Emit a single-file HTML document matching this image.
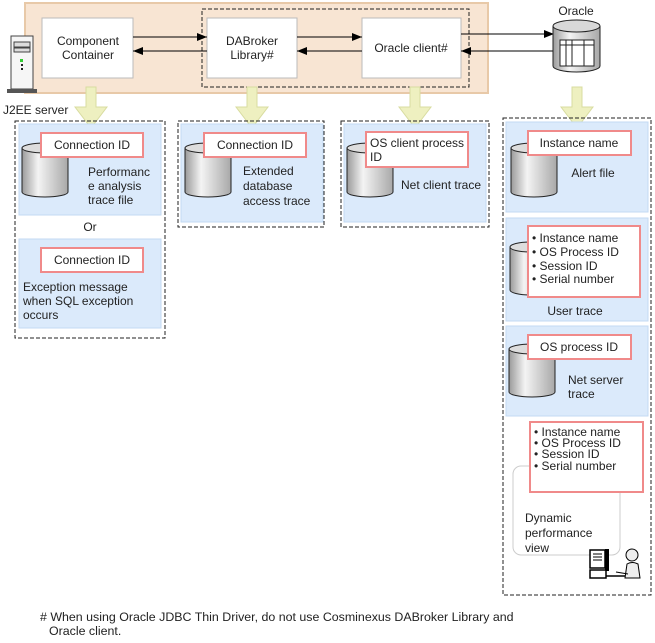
<!DOCTYPE html>
<html><head><meta charset="utf-8"><style>
html,body{margin:0;padding:0;background:#fff}
svg{display:block}
text{font-family:"Liberation Sans",sans-serif;font-size:12px;fill:#222}
</style></head><body>
<svg width="655" height="643" viewBox="0 0 655 643" xmlns="http://www.w3.org/2000/svg">
<defs>
<linearGradient id="cyl" x1="0" x2="1" y1="0" y2="0">
<stop offset="0" stop-color="#9a9a9a"/><stop offset="0.35" stop-color="#f4f4f4"/><stop offset="1" stop-color="#a8a8a8"/>
</linearGradient>
<marker id="ah" markerWidth="10" markerHeight="8" refX="10" refY="4" orient="auto" markerUnits="userSpaceOnUse">
<path d="M0,0 L10,4 L0,8 z" fill="#000"/></marker>
<g id="yarr"><path d="M-5,0 H5 V20 H16 L0,41 L-16,20 H-5 Z" fill="#eef0c0" stroke="#d8dca0"/></g>
</defs>

<rect x="25" y="3" width="463" height="90" fill="#f8e5d3" stroke="#e8c9a8" stroke-width="2"/>
<rect x="202" y="9" width="267" height="78" fill="none" stroke="#222" stroke-dasharray="4,2"/>
<rect x="42" y="18" width="91" height="60" fill="#fff" stroke="#bbb"/>
<rect x="207" y="18" width="90" height="60" fill="#fff" stroke="#bbb"/>
<rect x="362" y="18" width="99" height="60" fill="#fff" stroke="#bbb"/>
<text x="88" y="45" text-anchor="middle">Component</text>
<text x="88" y="59" text-anchor="middle">Container</text>
<text x="252" y="45" text-anchor="middle">DABroker</text>
<text x="252" y="59" text-anchor="middle">Library#</text>
<text x="411" y="52" text-anchor="middle">Oracle client#</text>
<line x1="133" y1="37" x2="207" y2="37" stroke="#000" marker-end="url(#ah)"/>
<line x1="207" y1="51" x2="133" y2="51" stroke="#000" marker-end="url(#ah)"/>
<line x1="297" y1="37" x2="362" y2="37" stroke="#000" marker-end="url(#ah)"/>
<line x1="362" y1="51" x2="297" y2="51" stroke="#000" marker-end="url(#ah)"/>
<line x1="461" y1="34" x2="554" y2="34" stroke="#000" marker-end="url(#ah)"/>
<line x1="553" y1="51" x2="461" y2="51" stroke="#000" marker-end="url(#ah)"/>

<text x="576" y="15" text-anchor="middle">Oracle</text>
<path d="M553,26 V66 A23.5,6 0 0 0 600,66 V26" fill="url(#cyl)" stroke="#222"/>
<ellipse cx="576.5" cy="26" rx="23.5" ry="6" fill="#d8d8d8" stroke="#222"/>
<rect x="560" y="40" width="34" height="26" fill="#fff" stroke="#222"/>
<line x1="560" y1="45" x2="594" y2="45" stroke="#222"/>
<line x1="566" y1="40" x2="566" y2="66" stroke="#222"/>
<line x1="572" y1="40" x2="572" y2="66" stroke="#222"/>
<line x1="584" y1="40" x2="584" y2="66" stroke="#222"/>

<rect x="11" y="36" width="22" height="53" fill="#f6f6f6" stroke="#444"/>
<rect x="14" y="42" width="16" height="5" fill="#ddd" stroke="#444"/>
<rect x="14" y="48" width="16" height="4" fill="#ddd" stroke="#444"/>
<rect x="20" y="59" width="3" height="3" fill="#3c3"/>
<rect x="21" y="64" width="2" height="2" fill="#222"/>
<rect x="21" y="68" width="2" height="2" fill="#222"/>
<rect x="7" y="89" width="30" height="4" fill="#555"/>
<text x="3" y="114">J2EE server</text>

<use href="#yarr" x="91" y="87"/>
<use href="#yarr" x="252" y="87"/>
<use href="#yarr" x="415" y="87"/>
<use href="#yarr" x="577" y="87"/>

<rect x="15" y="121" width="150" height="217" fill="none" stroke="#222" stroke-dasharray="4,2"/>
<rect x="19" y="124" width="142" height="91" fill="#dbeafb" stroke="#c3daf3"/>
<rect x="19" y="239" width="142" height="89" fill="#dbeafb" stroke="#c3daf3"/>
<path d="M22,148 V192 A23,5 0 0 0 68,192 V148" fill="url(#cyl)" stroke="#222"/>
<ellipse cx="45" cy="148" rx="23" ry="5" fill="#ddd" stroke="#222"/>
<rect x="41" y="133" width="102" height="24" fill="#fff" stroke="#f08a8a" stroke-width="2"/>
<text x="92" y="149" text-anchor="middle">Connection ID</text>
<text x="88" y="176">Performanc</text>
<text x="88" y="190">e analysis</text>
<text x="88" y="204">trace file</text>
<text x="90" y="231" text-anchor="middle">Or</text>
<rect x="41" y="248" width="102" height="24" fill="#fff" stroke="#f08a8a" stroke-width="2"/>
<text x="92" y="264" text-anchor="middle">Connection ID</text>
<text x="23" y="291">Exception message</text>
<text x="23" y="305">when SQL exception</text>
<text x="23" y="319">occurs</text>

<rect x="178" y="121" width="146" height="106" fill="none" stroke="#222" stroke-dasharray="4,2"/>
<rect x="181" y="124" width="142" height="98" fill="#dbeafb" stroke="#c3daf3"/>
<path d="M185,148 V192 A23,5 0 0 0 231,192 V148" fill="url(#cyl)" stroke="#222"/>
<ellipse cx="208" cy="148" rx="23" ry="5" fill="#ddd" stroke="#222"/>
<rect x="204" y="133" width="102" height="24" fill="#fff" stroke="#f08a8a" stroke-width="2"/>
<text x="255" y="149" text-anchor="middle">Connection ID</text>
<text x="243" y="175">Extended</text>
<text x="243" y="190">database</text>
<text x="243" y="205">access trace</text>

<rect x="341" y="121" width="148" height="106" fill="none" stroke="#222" stroke-dasharray="4,2"/>
<rect x="344" y="124" width="142" height="98" fill="#dbeafb" stroke="#c3daf3"/>
<path d="M347,148 V192 A23,5 0 0 0 393,192 V148" fill="url(#cyl)" stroke="#222"/>
<ellipse cx="370" cy="148" rx="23" ry="5" fill="#ddd" stroke="#222"/>
<rect x="366" y="132" width="102" height="35" fill="#fff" stroke="#f08a8a" stroke-width="2"/>
<text x="370" y="147">OS client process</text>
<text x="370" y="161">ID</text>
<text x="401" y="189">Net client trace</text>

<rect x="503" y="118" width="148" height="477" fill="none" stroke="#222" stroke-dasharray="4,2"/>
<rect x="506" y="122" width="142" height="90" fill="#dbeafb" stroke="#c3daf3"/>
<path d="M511,148 V192 A23,5 0 0 0 557,192 V148" fill="url(#cyl)" stroke="#222"/>
<ellipse cx="534" cy="148" rx="23" ry="5" fill="#ddd" stroke="#222"/>
<rect x="528" y="131" width="103" height="24" fill="#fff" stroke="#f08a8a" stroke-width="2"/>
<text x="579" y="147" text-anchor="middle">Instance name</text>
<text x="593" y="177" text-anchor="middle">Alert file</text>

<rect x="506" y="218" width="142" height="103" fill="#dbeafb" stroke="#c3daf3"/>
<path d="M510,247 V290 A20,5 0 0 0 550,290 V247" fill="url(#cyl)" stroke="#222"/>
<ellipse cx="530" cy="247" rx="20" ry="5" fill="#ddd" stroke="#222"/>
<rect x="528" y="226" width="112" height="71" fill="#fff" stroke="#f08a8a" stroke-width="2"/>
<text x="532" y="242">• Instance name</text>
<text x="532" y="256">• OS Process ID</text>
<text x="532" y="270">• Session ID</text>
<text x="532" y="283">• Serial number</text>
<text x="575" y="315" text-anchor="middle">User trace</text>

<rect x="506" y="326" width="142" height="90" fill="#dbeafb" stroke="#c3daf3"/>
<path d="M509,349 V392 A23,5 0 0 0 555,392 V349" fill="url(#cyl)" stroke="#222"/>
<ellipse cx="532" cy="349" rx="23" ry="5" fill="#ddd" stroke="#222"/>
<rect x="528" y="335" width="103" height="24" fill="#fff" stroke="#f08a8a" stroke-width="2"/>
<text x="579" y="351" text-anchor="middle">OS process ID</text>
<text x="568" y="384">Net server</text>
<text x="568" y="398">trace</text>

<rect x="513" y="466" width="107" height="89" rx="8" fill="#fff" stroke="#ccc"/>
<rect x="530" y="422" width="113" height="70" fill="#fff" stroke="#f08a8a" stroke-width="2"/>
<text x="534" y="436">• Instance name</text>
<text x="534" y="447">• OS Process ID</text>
<text x="534" y="458">• Session ID</text>
<text x="534" y="470">• Serial number</text>
<text x="525" y="522">Dynamic</text>
<text x="525" y="537">performance</text>
<text x="525" y="552">view</text>
<rect x="590" y="550" width="15" height="18" fill="#fff" stroke="#000" stroke-width="1.5"/>
<line x1="593" y1="554" x2="602" y2="554" stroke="#000"/><line x1="593" y1="557" x2="602" y2="557" stroke="#000"/><line x1="593" y1="560" x2="602" y2="560" stroke="#000"/>
<rect x="605" y="549" width="4" height="22" fill="#000"/>
<rect x="590" y="570" width="16" height="8" fill="#fff" stroke="#000" stroke-width="1.5"/>
<line x1="606" y1="576" x2="630" y2="576" stroke="#000" stroke-width="1.5"/>
<circle cx="632" cy="555" r="6" fill="#eee" stroke="#000"/>
<path d="M625,578 L627,564 Q632,561 638,564 L640,578 Z" fill="#eee" stroke="#000"/>
<path d="M616,572 L628,574" stroke="#000"/>

<text x="40" y="621" style="font-size:12.4px"># When using Oracle JDBC Thin Driver, do not use Cosminexus DABroker Library and</text>
<text x="49" y="635" style="font-size:12.4px">Oracle client.</text>
</svg>
</body></html>
